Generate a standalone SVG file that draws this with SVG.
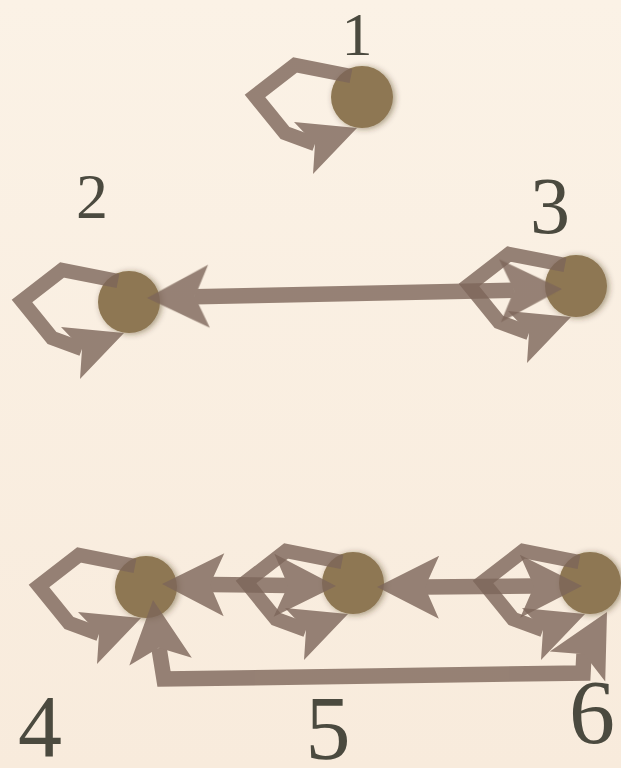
<svg xmlns="http://www.w3.org/2000/svg" xmlns:xlink="http://www.w3.org/1999/xlink" width="621" height="768" viewBox="0 0 621 768">
  <defs>
    <linearGradient id="bg" x1="0" y1="0" x2="0" y2="1">
      <stop offset="0" stop-color="#fbf2e6"/>
      <stop offset="1" stop-color="#f8ebdc"/>
    </linearGradient>
    <filter id="shadow" x="-40%" y="-40%" width="180%" height="180%">
      <feGaussianBlur in="SourceAlpha" stdDeviation="3"/>
      <feOffset dx="2" dy="1" result="b"/>
      <feFlood flood-color="#3a2a10" flood-opacity="0.45"/>
      <feComposite in2="b" operator="in"/>
      <feMerge><feMergeNode/><feMergeNode in="SourceGraphic"/></feMerge>
    </filter>
    <polygon id="head" points="0,0 -62,-31.5 -48,0 -62,31.5" fill="rgb(125,102,90)" stroke="none"/>
    <g id="loop">
      <path d="M-11,-21 L-67,-32 L-107,-1 L-77,36 L-47,47" fill="none" stroke="rgb(125,102,90)" stroke-width="14.5" stroke-linejoin="miter"/>
      <polygon points="-5,31 -68,25 -47,47 -49,77" fill="rgb(125,102,90)" stroke="none"/>
    </g>
  </defs>
  <style>
    .node { fill: #8e7752; filter: url(#shadow); }
    .lbl { font-family: "Liberation Serif", "DejaVu Serif", serif; fill: #4b4a3f; text-anchor: middle; }
    .arrow { opacity: 0.8; }
    .shaft { fill: none; stroke: rgb(125,102,90); stroke-width: 15.5; stroke-linejoin: miter; stroke-miterlimit: 10; }
  </style>
  <rect x="0" y="0" width="621" height="768" fill="url(#bg)"/>

  <g id="node1">
    <circle class="node" cx="362" cy="97" r="31"/>
    <text class="lbl" x="357" y="55" font-size="62">1</text>
  </g>
  <g id="node2">
    <circle class="node" cx="129" cy="302" r="31"/>
    <text class="lbl" x="92" y="218" font-size="64">2</text>
  </g>
  <g id="node3">
    <circle class="node" cx="576" cy="286" r="31"/>
    <text class="lbl" x="550" y="233" font-size="80">3</text>
  </g>
  <g id="node4">
    <circle class="node" cx="146" cy="587" r="31"/>
    <text class="lbl" x="40" y="756" font-size="88">4</text>
  </g>
  <g id="node5">
    <circle class="node" cx="353" cy="583" r="31"/>
    <text class="lbl" x="328" y="759" font-size="90">5</text>
  </g>
  <g id="node6">
    <circle class="node" cx="590" cy="583" r="31"/>
    <text class="lbl" x="592" y="743" font-size="92">6</text>
  </g>

  <g id="connectors">
    <g class="arrow"><use xlink:href="#loop" transform="translate(362,97)"/></g>
    <g class="arrow"><use xlink:href="#loop" transform="translate(129,302)"/></g>
    <g class="arrow"><use xlink:href="#loop" transform="translate(576,286)"/></g>
    <g class="arrow"><use xlink:href="#loop" transform="translate(146,587)"/></g>
    <g class="arrow"><use xlink:href="#loop" transform="translate(353,583)"/></g>
    <g class="arrow"><use xlink:href="#loop" transform="translate(590,583)"/></g>

    <g class="arrow" id="e2-3">
      <path class="shaft" d="M195,296.7 L514,290.3"/>
      <use xlink:href="#head" transform="translate(147,298) rotate(178.4)"/>
      <use xlink:href="#head" transform="translate(562,289) rotate(-1.6)"/>
    </g>
    <g class="arrow" id="e4-5">
      <path class="shaft" d="M210,584.5 L288,585.5"/>
      <use xlink:href="#head" transform="translate(162,584) rotate(180.6)"/>
      <use xlink:href="#head" transform="translate(336,586) rotate(0.6)"/>
    </g>
    <g class="arrow" id="e5-6">
      <path class="shaft" d="M425,587 L534,586"/>
      <use xlink:href="#head" transform="translate(377,587) rotate(180.3)"/>
      <use xlink:href="#head" transform="translate(582,586) rotate(-0.3)"/>
    </g>
    <g class="arrow" id="e4-6">
      <path class="shaft" d="M159,648 L164,679 L583,673 L584,654"/>
      <use xlink:href="#head" transform="translate(153,600) rotate(-97)"/>
      <use xlink:href="#head" transform="translate(607,612) rotate(-61.6)"/>
    </g>
  </g>
</svg>
